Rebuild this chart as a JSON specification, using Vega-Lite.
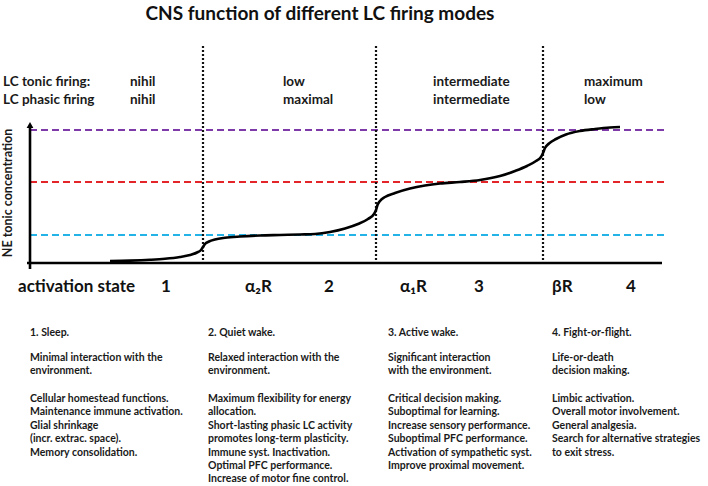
{
  "$schema": "https://vega.github.io/schema/vega-lite/v6.json",
  "width": 708,
  "height": 486,
  "autosize": {"type": "fit", "contains": "padding"},
  "padding": 0,
  "background": "white",
  "config": {"view": {"stroke": null}, "font": "Lato"},
  "datasets": {
    "levels": [
      {"level": "maximum", "x": 30, "x2": 665, "y": 130},
      {"level": "intermediate", "x": 30, "x2": 665, "y": 182},
      {"level": "low", "x": 30, "x2": 665, "y": 235}
    ],
    "dividers": [
      {"x": 203, "y": 46, "y2": 262},
      {"x": 376, "y": 46, "y2": 262},
      {"x": 543, "y": 46, "y2": 262}
    ],
    "axes": [
      {"x": 27, "x2": 662, "y": 263, "y2": 263},
      {"x": 30, "x2": 30, "y": 269, "y2": 127}
    ],
    "arrow": [{"x": 30, "y": 125}],
    "curve": [
      {"x": 110, "y": 261}, {"x": 130, "y": 260.6}, {"x": 150, "y": 259.8}, {"x": 165, "y": 258.8},
      {"x": 180, "y": 257}, {"x": 190, "y": 255}, {"x": 197, "y": 252.5}, {"x": 201, "y": 250},
      {"x": 203, "y": 247}, {"x": 205, "y": 244}, {"x": 209, "y": 241.5}, {"x": 215, "y": 239.5},
      {"x": 225, "y": 237.8}, {"x": 240, "y": 236.5}, {"x": 260, "y": 235.5}, {"x": 280, "y": 235},
      {"x": 300, "y": 234.5}, {"x": 315, "y": 234}, {"x": 330, "y": 232}, {"x": 345, "y": 228.5},
      {"x": 358, "y": 224}, {"x": 368, "y": 219}, {"x": 374, "y": 214}, {"x": 376, "y": 210},
      {"x": 377.5, "y": 205}, {"x": 380, "y": 201}, {"x": 385, "y": 197}, {"x": 395, "y": 193},
      {"x": 410, "y": 188.5}, {"x": 425, "y": 185.5}, {"x": 440, "y": 183.5}, {"x": 460, "y": 182},
      {"x": 480, "y": 180}, {"x": 500, "y": 176}, {"x": 515, "y": 171}, {"x": 527, "y": 166},
      {"x": 536, "y": 161}, {"x": 541, "y": 157}, {"x": 543, "y": 153}, {"x": 545, "y": 148},
      {"x": 549, "y": 143.5}, {"x": 556, "y": 139}, {"x": 566, "y": 134.5}, {"x": 580, "y": 131},
      {"x": 595, "y": 129}, {"x": 610, "y": 127.5}, {"x": 620, "y": 127}
    ],
    "title": [{"x": 320, "y": 20, "text": "CNS function of different LC firing modes"}],
    "header": [
      {"x": 3, "y": 86, "text": "LC tonic  firing:"},
      {"x": 3, "y": 104, "text": "LC phasic firing"},
      {"x": 130, "y": 86, "text": "nihil"},
      {"x": 130, "y": 104, "text": "nihil"},
      {"x": 283, "y": 86, "text": "low"},
      {"x": 283, "y": 104, "text": "maximal"},
      {"x": 433, "y": 86, "text": "intermediate"},
      {"x": 433, "y": 104, "text": "intermediate"},
      {"x": 584, "y": 86, "text": "maximum"},
      {"x": 584, "y": 104, "text": "low"}
    ],
    "ylabel": [{"x": 8, "y": 193, "text": "NE tonic concentration"}],
    "states": [
      {"x": 18, "y": 292, "text": "activation state"},
      {"x": 161, "y": 292, "text": "1"},
      {"x": 245, "y": 292, "text": "α₂R"},
      {"x": 324, "y": 292, "text": "2"},
      {"x": 400, "y": 292, "text": "α₁R"},
      {"x": 474, "y": 292, "text": "3"},
      {"x": 552, "y": 292, "text": "βR"},
      {"x": 626, "y": 292, "text": "4"}
    ],
    "desc": [
      {"x": 30, "y": 336, "text": "1. Sleep."},
      {"x": 30, "y": 361, "text": "Minimal interaction with the\nenvironment."},
      {"x": 30, "y": 402, "text": "Cellular homestead functions.\nMaintenance immune activation.\nGlial shrinkage\n(incr. extrac. space).\nMemory consolidation."},
      {"x": 208, "y": 336, "text": "2. Quiet wake."},
      {"x": 208, "y": 361, "text": "Relaxed interaction with the\nenvironment."},
      {"x": 208, "y": 402, "text": "Maximum flexibility for energy\nallocation.\nShort-lasting phasic LC activity\npromotes long-term plasticity.\nImmune syst. Inactivation.\nOptimal PFC performance.\nIncrease of motor fine control."},
      {"x": 388, "y": 336, "text": "3. Active wake."},
      {"x": 388, "y": 361, "text": "Significant interaction\nwith the environment."},
      {"x": 388, "y": 402, "text": "Critical decision making.\nSuboptimal for learning.\nIncrease sensory performance.\nSuboptimal PFC performance.\nActivation of sympathetic syst.\nImprove proximal movement."},
      {"x": 552, "y": 336, "text": "4. Fight-or-flight."},
      {"x": 552, "y": 361, "text": "Life-or-death\ndecision making."},
      {"x": 552, "y": 402, "text": "Limbic activation.\nOverall motor  involvement.\nGeneral analgesia.\nSearch for alternative strategies\nto exit stress."}
    ]
  },
  "encoding": {
    "x": {"field": "x", "type": "quantitative", "axis": null, "scale": {"domain": [0, 708], "nice": false, "zero": false}},
    "y": {"field": "y", "type": "quantitative", "axis": null, "scale": {"domain": [0, 486], "nice": false, "zero": false, "reverse": true}}
  },
  "layer": [
    {
      "data": {"name": "levels"},
      "mark": {"type": "rule", "strokeDash": [7, 4], "strokeWidth": 2.2},
      "encoding": {
        "x2": {"field": "x2"},
        "color": {"field": "level", "type": "nominal", "legend": null,
          "scale": {"domain": ["maximum", "intermediate", "low"], "range": ["#7E3AA8", "#E3252A", "#23B3E6"]}}
      }
    },
    {
      "data": {"name": "dividers"},
      "mark": {"type": "rule", "strokeDash": [2, 2], "strokeWidth": 2.2, "color": "#111"},
      "encoding": {"y2": {"field": "y2"}}
    },
    {
      "data": {"name": "axes"},
      "mark": {"type": "rule", "strokeWidth": 2.6, "color": "#000"},
      "encoding": {"x2": {"field": "x2"}, "y2": {"field": "y2"}}
    },
    {
      "data": {"name": "arrow"},
      "mark": {"type": "point", "shape": "triangle-up", "filled": true, "size": 45, "color": "#000", "opacity": 1}
    },
    {
      "data": {"name": "curve"},
      "mark": {"type": "line", "interpolate": "monotone", "strokeWidth": 2.6, "color": "#000"}
    },
    {
      "data": {"name": "title"},
      "mark": {"type": "text", "align": "center", "baseline": "alphabetic", "fontSize": 19, "fontWeight": "bold", "color": "#111"},
      "encoding": {"text": {"field": "text"}}
    },
    {
      "data": {"name": "header"},
      "mark": {"type": "text", "align": "left", "baseline": "alphabetic", "fontSize": 13.5, "fontWeight": "bold", "color": "#1a1a1a"},
      "encoding": {"text": {"field": "text"}}
    },
    {
      "data": {"name": "ylabel"},
      "mark": {"type": "text", "align": "center", "baseline": "middle", "angle": 270, "fontSize": 12.5, "fontWeight": "bold", "color": "#1a1a1a"},
      "encoding": {"text": {"field": "text"}}
    },
    {
      "data": {"name": "states"},
      "mark": {"type": "text", "align": "left", "baseline": "alphabetic", "fontSize": 17, "fontWeight": "bold", "color": "#111"},
      "encoding": {"text": {"field": "text"}}
    },
    {
      "data": {"name": "desc"},
      "mark": {"type": "text", "align": "left", "baseline": "alphabetic", "fontSize": 10.5, "fontWeight": "bold", "color": "#1a1a1a", "lineBreak": "\n", "lineHeight": 13.4},
      "encoding": {"text": {"field": "text"}}
    }
  ]
}
